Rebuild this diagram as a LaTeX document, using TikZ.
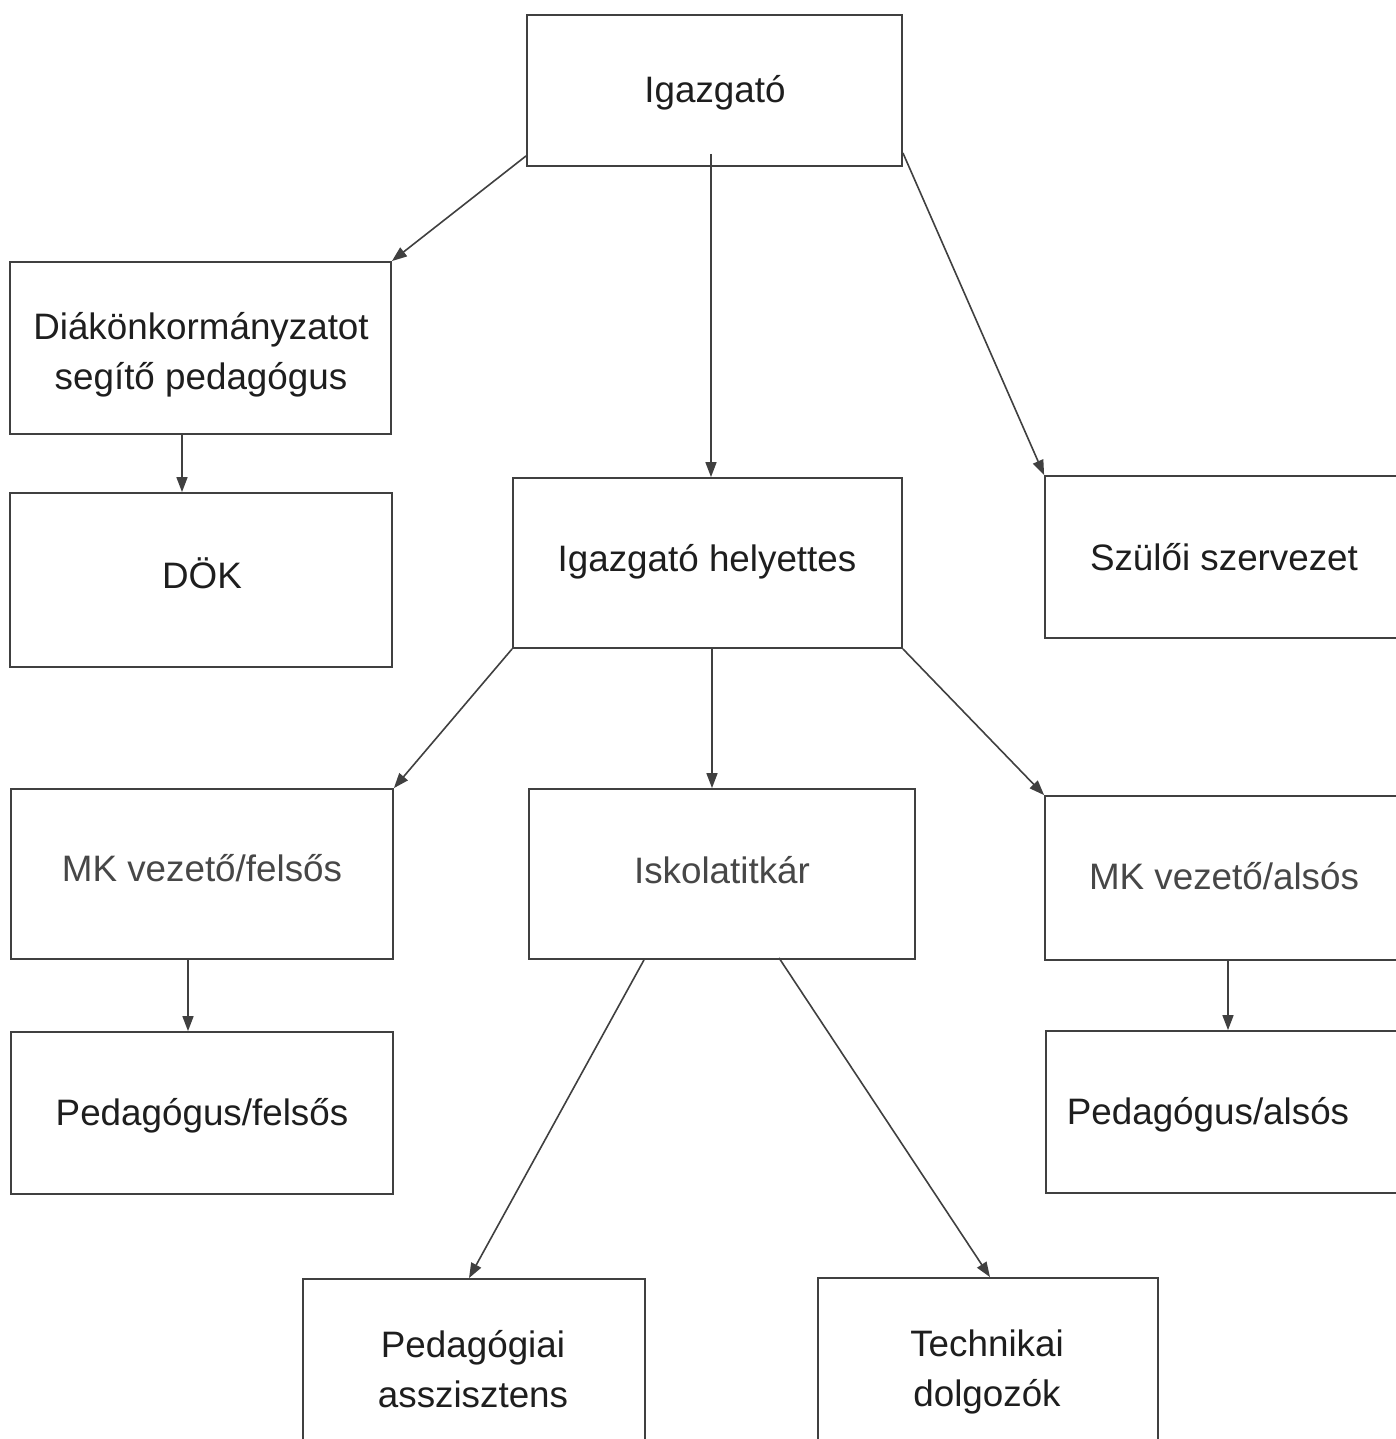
\documentclass[tikz,border=0pt]{standalone}
\usepackage{fontspec}
\setmainfont{Liberation Sans}
\usetikzlibrary{arrows.meta}
\definecolor{linec}{HTML}{404040}
\definecolor{textc}{HTML}{1E1E1E}
\definecolor{textg}{HTML}{474747}
\newcommand{\twolines}[2]{\begin{tabular}[t]{@{}c@{}}#1\\#2\end{tabular}}
\tikzset{
  box/.style={draw=linec, line width=1.8pt, rectangle, inner sep=0pt},
  arr/.style={draw=linec, line width=1.6pt, -{Triangle[length=15pt,width=11pt]}},
  txt/.style={inner sep=0pt, anchor=base, text=textc, font=\fontsize{36.8}{50}\selectfont},
  greytext/.style={text=textg}
}
\begin{document}
\begin{tikzpicture}[x=1pt,y=-1pt]
\useasboundingbox (0,0) rectangle (1396,1439);
\clip (0,0) rectangle (1396,1439);
\fill[white] (0,0) rectangle (1396,1439);

% boxes
\node[box, minimum width=375pt, minimum height=151pt] (ig) at (714.5,90.5) {};
\node[box, minimum width=381pt, minimum height=172pt] (diak) at (200.5,348) {};
\node[box, minimum width=382pt, minimum height=174pt] (dok) at (201,580) {};
\node[box, minimum width=389pt, minimum height=170pt] (hely) at (707.5,563) {};
\node[box, minimum width=358pt, minimum height=162pt] (szul) at (1224,557) {};
\node[box, minimum width=382pt, minimum height=170pt] (mkf) at (202,874) {};
\node[box, minimum width=386pt, minimum height=170pt] (isk) at (722,874) {};
\node[box, minimum width=358pt, minimum height=164pt] (mka) at (1224,878) {};
\node[box, minimum width=382pt, minimum height=162pt] (pedf) at (202,1113) {};
\node[box, minimum width=357pt, minimum height=162pt] (peda) at (1224.5,1112) {};
\node[box, minimum width=342pt, minimum height=180pt] (pasz) at (474,1369) {};
\node[box, minimum width=340pt, minimum height=180pt] (tech) at (988,1368) {};

% texts
\node[txt] (igt) at (715,103) {Igazgató};
\node[txt] (diakt) at (201,339.5) {\twolines{Diákönkormányzatot}{segítő pedagógus}};
\node[txt] (dokt) at (202,588) {DÖK};
\node[txt] (helyt) at (707,571.5) {Igazgató helyettes};
\node[txt] (szult) at (1224,570.5) {Szülői szervezet};
\node[txt, greytext] (mkft) at (202,881.5) {MK vezető/felsős};
\node[txt, greytext] (iskt) at (722,883) {Iskolatitkár};
\node[txt, greytext] (mkat) at (1224,889) {MK vezető/alsós};
\node[txt] (pedft) at (202,1125) {Pedagógus/felsős};
\node[txt] (pedat) at (1208,1124) {Pedagógus/alsós};
\node[txt] (paszt) at (473,1357) {\twolines{Pedagógiai}{asszisztens}};
\node[txt] (techt) at (987,1356) {\twolines{Technikai}{dolgozók}};

% connectors
\draw[arr] ([yshift=11pt]ig.south west) -- (diak.north east);
\draw[arr] ([xshift=-3.5pt,yshift=13pt]ig.south) -- ([xshift=3.5pt]hely.north);
\draw[arr] ([yshift=14pt]ig.south east) -- (szul.north west);
\draw[arr] ([xshift=-18.5pt]diak.south) -- ([xshift=-19pt]dok.north);
\draw[arr] (hely.south west) -- (mkf.north east);
\draw[arr] ([xshift=4.5pt]hely.south) -- ([xshift=-10pt]isk.north);
\draw[arr] (hely.south east) -- (mka.north west);
\draw[arr] ([xshift=-14pt]mkf.south) -- ([xshift=-14pt]pedf.north);
\draw[arr] ([xshift=4pt]mka.south) -- ([xshift=3.5pt]peda.north);
\draw[arr] ([xshift=-78pt]isk.south) -- ([xshift=-5pt]pasz.north);
\draw[arr] ([xshift=57pt,yshift=2pt]isk.south) -- ([xshift=2pt]tech.north);
\end{tikzpicture}
\end{document}
